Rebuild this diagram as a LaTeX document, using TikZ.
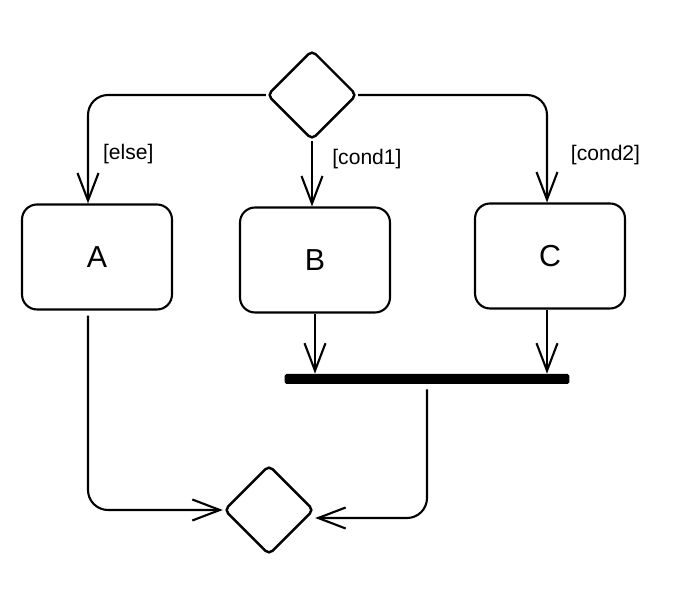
\documentclass[tikz,border=0pt]{standalone}
\usepackage{fontspec}
\setmainfont{Liberation Sans}
\usetikzlibrary{positioning, arrows.meta, shapes.geometric, calc}

\begin{document}
\begin{tikzpicture}[x=0.02cm, y=-0.02cm,
  decision/.style={draw, diamond, aspect=1, minimum width=1.8cm, minimum height=1.8cm,
                   inner sep=0pt, rounded corners=3pt, line width=1.4pt},
  act/.style={draw, rounded corners=3mm, minimum width=3cm, minimum height=2.1cm,
              line width=1.2pt, font=\LARGE},
  syncbar/.style={fill=black, rounded corners=1pt, minimum width=5.7cm,
                  minimum height=0.2cm, inner sep=0pt},
  arr/.style={-{Straight Barb[length=0.55cm, width=0.42cm]}, line width=1.2pt,
              rounded corners=4mm},
  guard/.style={font=\large, inner sep=1pt},
]
\useasboundingbox[fill=white] (0,0) rectangle (676,597);

% Decision
\node[decision] (d1) at (312,95) {};

% Activities
\node[act] (a) at (97,257) {A};
\node[act] (b) at (315,260) {B};
\node[act] (c) at (550,256) {C};

% Join bar
\node[syncbar] (bar) at (427,379) {};

% Merge
\node[decision] (d2) at (269,510) {};

% Branch arrows
\draw[arr] (d1.west) -| node[guard, right=7pt, pos=0.77] {[else]} ([xshift=-0.18cm]a.north);
\draw[arr] (d1.south) -- node[guard, right=10pt, pos=0.28] {[cond1]} (d1.south |- b.north);
\draw[arr] (d1.east) -| node[guard, right=12pt, pos=0.78] {[cond2]} ([xshift=-0.06cm]c.north);

% Into the join bar
\draw[arr] (b.south) -- (b.south |- bar.north);
\draw[arr] ([xshift=-0.06cm]c.south) -- ([xshift=-0.06cm]c.south |- bar.north);

% Into the merge
\draw[arr] ([xshift=-0.18cm, yshift=-0.1cm]a.south) |- (d2.west);
\draw[arr] ([yshift=-0.1cm]bar.south) |- ([yshift=-0.16cm]d2.east);

\end{tikzpicture}
\end{document}
